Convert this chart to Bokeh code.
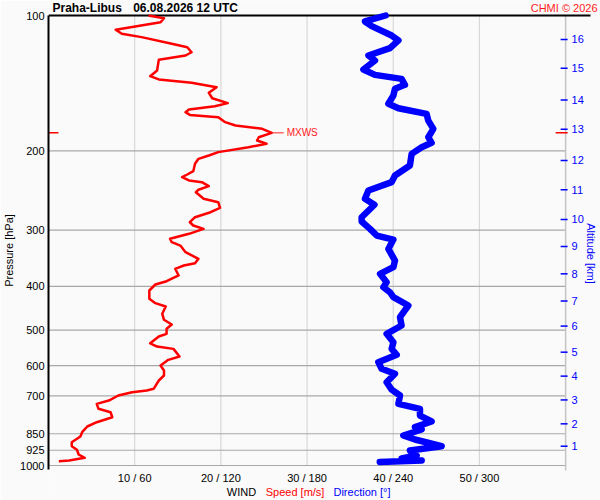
import math
from bokeh.plotting import figure
from bokeh.models import Range1d, FixedTicker
from bokeh.core.properties import value
from bokeh.embed import file_html
from bokeh.resources import INLINE

# ---------------- data ----------------
station = "Praha-Libus"
stamp = "06.08.2026 12 UTC"
credit = "CHMI © 2026"
legend_parts = ["WIND", "Speed [m/s]", "Direction [°]"]

speed_pressure = [100, 101.4, 103.5, 107.6, 109.8, 111.7, 115.6, 117.6, 120.7, 122.7,
                  125.4, 132.5, 136.4, 138.7, 141.1, 144.3, 148.5, 152.7, 156.6, 159.1,
                  161.8, 164.0, 166.3, 168.3, 172.6, 175.6, 178.6, 182.3, 186.4, 189.6,
                  192.8, 196.2, 201.2, 204.7, 208.2, 213.6, 221.8, 225.6, 228.7, 232.6,
                  234.6, 239.5, 243.9, 247.0, 255.5, 259.9, 267.5, 273.6, 280.7, 288.0,
                  292.9, 297.9, 305.6, 313.5, 319.0, 324.5, 335.7, 347.3, 355.1, 359.4,
                  365.5, 378.2, 389.4, 396.1, 408.4, 426.2, 435.8, 443.3, 460.2, 474.5,
                  486.1, 496.9, 509.8, 516.9, 535.0, 544.1, 550.6, 572.7, 582.4, 599.7,
                  615.2, 631.0, 647.3, 675.5, 681.3, 687.3, 699.0, 717.3, 729.4, 748.2,
                  761.4, 781.1, 801.3, 819.1, 843.3, 862.2, 887.6, 906.0, 922.8, 945.3,
                  961.4, 974.8, 978.2]
speed_ms = [11.6, 13.4, 13.0, 7.8, 8.5, 10.8, 14.3, 16.1, 16.6, 15.9,
            12.8, 12.6, 11.8, 12.8, 16.6, 19.5, 18.6, 19.0, 20.8, 19.3,
            16.3, 15.9, 16.4, 19.7, 20.5, 21.7, 24.8, 25.9, 24.4, 24.2,
            25.3, 23.2, 19.7, 18.6, 17.4, 17.0, 16.8, 16.1, 15.5, 16.3,
            17.8, 18.6, 17.4, 17.1, 18.0, 19.7, 19.9, 18.8, 17.0, 16.4,
            16.8, 18.0, 16.3, 14.1, 14.3, 15.3, 15.9, 17.4, 17.0, 15.7,
            14.7, 15.1, 13.7, 12.4, 11.7, 11.7, 12.4, 13.6, 13.2, 13.4,
            14.3, 13.7, 13.7, 12.8, 11.8, 12.6, 14.5, 15.2, 13.9, 13.0,
            13.4, 13.4, 12.8, 12.2, 11.4, 9.7, 8.1, 7.0, 5.6, 5.8,
            7.2, 7.4, 5.6, 4.5, 3.9, 3.7, 2.7, 2.7, 3.3, 3.5,
            4.2, 2.4, 1.2]

dir_pressure = [100, 103.1, 105.6, 110.8, 113.6, 118.2, 122.7, 125.9, 131.8, 135.5,
                138.3, 142.6, 145.5, 150.6, 157.1, 160.7, 165.4, 171.2, 178.6, 186.4,
                191.8, 196.2, 203.0, 215.4, 226.7, 234.6, 244.8, 255.5, 263.4, 280.7,
                287.0, 297.9, 308.3, 314.7, 330.2, 350.4, 362.5, 375.0, 391.4, 401.7,
                412.1, 422.7, 441.0, 468.2, 488.6, 509.8, 532.1, 550.6, 567.5, 589.3,
                609.6, 625.5, 653.1, 678.0, 699.0, 729.4, 748.2, 774.4, 798.3, 822.0,
                831.8, 857.7, 875.5, 906.0, 926.2, 950.1, 964.9, 974.8, 982.2]
dir_deg = [234.7, 220.3, 225.0, 238.9, 243.6, 237.7, 222.7, 227.3, 219.2, 227.3,
           245.8, 248.1, 241.2, 240.1, 236.6, 243.6, 263.2, 264.4, 267.9, 264.4,
           266.7, 259.8, 252.8, 251.6, 241.2, 238.9, 222.7, 220.3, 226.9, 218.0,
           218.0, 223.8, 228.5, 240.1, 236.6, 241.2, 240.1, 230.8, 235.4, 233.1,
           237.7, 240.1, 250.5, 244.7, 245.8, 235.4, 240.1, 238.9, 242.4, 229.6,
           231.9, 241.2, 235.4, 238.9, 244.7, 243.6, 258.6, 258.6, 266.7, 255.1,
           259.8, 247.0, 255.1, 273.7, 251.6, 256.3, 245.8, 259.8, 230.6]

pressure_ticks = [100, 200, 300, 400, 500, 600, 700, 850, 925, 1000]
speed_ticks = [10, 20, 30, 40, 50]
speed_tick_labels = ["10 / 60", "20 / 120", "30 / 180", "40 / 240", "50 / 300"]
altitude_km = [1, 2, 3, 4, 5, 6, 7, 8, 9, 10, 11, 12, 13, 14, 15, 16]
altitude_pressure = [906, 808, 715, 633, 560, 490, 431, 375, 326, 284, 244, 210, 179, 154, 131, 113]

P_TOP, P_BOT = 100, 1000
SPEED_MAX = 60
DIR_PER_SPEED = 6

# ---------------- layout helpers (pixel -> data position for text placement) ----------------
W, H = 600, 500
X0 = 46            # canvas x of speed 0 (frame left)
PX = 8.65          # pixels per m/s
Y100 = 15          # canvas y of 100 hPa
DEC = 450          # pixels per pressure decade
BG = "#fafafa"
FONT = "Liberation Sans"


def sx(cx):
    return (cx - X0) / PX


def py(cy):
    return P_TOP * 10 ** ((cy - Y100) / DEC)


p = figure(width=W, height=H, y_axis_type="log", x_axis_location=None,
           x_range=Range1d(0, sx(W)), y_range=Range1d(py(H), py(0)),
           output_backend="svg", toolbar_location=None,
           min_border_left=X0, min_border_right=0, min_border_top=0, min_border_bottom=0,
           background_fill_color=BG, border_fill_color=BG, outline_line_color=None)
p.extra_x_ranges = {"dir": Range1d(0, sx(W) * DIR_PER_SPEED)}
p.xgrid.visible = False
p.ygrid.visible = False

# left pressure axis (real axis)
la = p.left[0]
la.ticker = FixedTicker(ticks=pressure_ticks)
la.major_label_overrides = {t: str(t) for t in pressure_ticks}
la.bounds = (P_TOP, py(469))
la.major_tick_in = 0
la.major_tick_out = 0
la.minor_tick_line_color = None
la.axis_line_color = "black"
la.axis_line_width = 2
la.major_label_standoff = 4
la.major_label_text_font = FONT
la.major_label_text_font_size = "11px"
la.major_label_text_color = "black"
la.axis_label = "Pressure [hPa]"
la.axis_label_standoff = 2
la.axis_label_text_font = FONT
la.axis_label_text_font_size = "11px"
la.axis_label_text_font_style = "normal"
la.axis_label_text_color = "black"

# grid lines
lev = pressure_ticks[1:]
p.segment(x0=speed_ticks, y0=[P_TOP] * len(speed_ticks), x1=speed_ticks,
          y1=[P_BOT] * len(speed_ticks), color="#d8d8d8", line_width=1.2)
p.segment(x0=[0] * len(lev), y0=lev, x1=[SPEED_MAX] * len(lev), y1=lev,
          color="#a8a8a8", line_width=1.2)

# right altitude scale line + top border
p.segment(x0=[SPEED_MAX], y0=[P_TOP], x1=[SPEED_MAX], y1=[py(470)],
          color="#c4c4c4", line_width=1.5)
p.segment(x0=[0], y0=[P_TOP], x1=[sx(590)], y1=[P_TOP], color="black", line_width=2)

# profiles
p.line(dir_deg, dir_pressure, x_range_name="dir", color="blue", line_width=6.5,
       line_join="round", line_cap="round")
p.line(speed_ms, speed_pressure, color="red", line_width=2.5, line_join="round")

# altitude ticks and labels
na = len(altitude_km)
p.segment(x0=[SPEED_MAX - 5 / PX] * na, y0=altitude_pressure,
          x1=[SPEED_MAX + 2 / PX] * na, y1=altitude_pressure, color="blue", line_width=1.5)
p.text(x=[SPEED_MAX + 6 / PX] * na, y=altitude_pressure, text=[str(k) for k in altitude_km],
       text_font=value(FONT), text_font_size="11px", text_color="blue",
       text_align="left", text_baseline="middle")
p.text(x=[sx(590)], y=[py(253)], text=["Altitude [km]"], angle=-math.pi / 2,
       text_font=value(FONT), text_font_size="11px", text_color="blue",
       text_align="center", text_baseline="middle")

# MXWS marker
imax = max(range(len(speed_ms)), key=lambda i: speed_ms[i])
pm, sm = speed_pressure[imax], speed_ms[imax]
p.segment(x0=[sm], y0=[pm], x1=[sm + 12 / PX], y1=[pm], color="#ff2020", line_width=1)
p.segment(x0=[sx(43), SPEED_MAX - 10 / PX], y0=[pm, pm], x1=[sx(56), SPEED_MAX + 2 / PX],
          y1=[pm, pm], color="red", line_width=1.5)
p.text(x=[sm + 15 / PX], y=[pm], text=["MXWS"], text_font=value(FONT),
       text_font_size="10px", text_color="#ff2020", text_align="left", text_baseline="middle")

# header
p.text(x=[sx(50), sx(131)], y=[py(7), py(7)], text=[station, stamp], text_font=value(FONT),
       text_font_size="12px", text_font_style="bold", text_color="black",
       text_align="left", text_baseline="middle")
p.text(x=[sx(597)], y=[py(7)], text=[credit], text_font=value(FONT), text_font_size="11px",
       text_color="#ff1a1a", text_align="right", text_baseline="middle")

# bottom wind scale labels
p.text(x=speed_ticks, y=[py(477)] * len(speed_ticks), text=speed_tick_labels,
       text_font=value(FONT), text_font_size="11px", text_color="black",
       text_align="center", text_baseline="middle")
p.text(x=[sx(225), sx(264), sx(332)], y=[py(491)] * 3, text=legend_parts,
       text_font=value(FONT), text_font_size="11px", text_color=["black", "red", "blue"],
       text_align="left", text_baseline="middle")

open("out.html", "w").write(file_html(p, INLINE))
